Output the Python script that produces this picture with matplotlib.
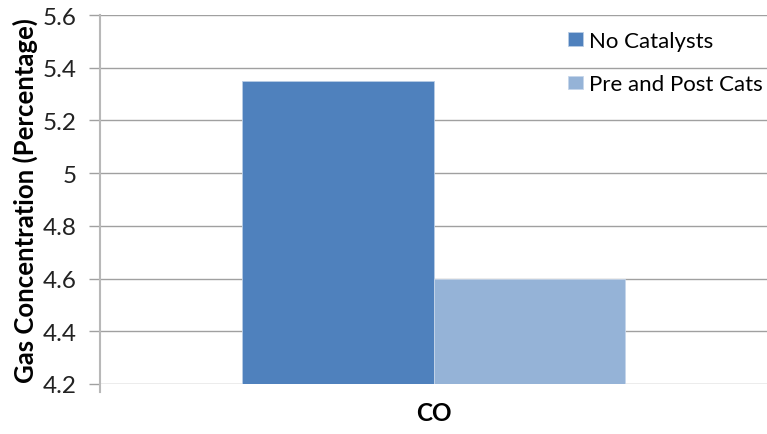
import matplotlib.pyplot as plt
import numpy as np

plt.rcParams['font.family'] = ['Lato', 'DejaVu Sans']

categories = ['CO']
series_names = ['No Catalysts', 'Pre and Post Cats']
no_catalysts = [5.35]
pre_post_cats = [4.6]
yticks = [4.2, 4.4, 4.6, 4.8, 5.0, 5.2, 5.4, 5.6]
ytick_labels = ['4.2', '4.4', '4.6', '4.8', '5', '5.2', '5.4', '5.6']

fig = plt.figure(figsize=(7.67, 4.35), dpi=100)
ax = fig.add_axes([0.1304, 0.115, 0.8696, 0.848])

x = np.arange(len(categories))
w = 0.287
ax.bar(x - w / 2, np.array(no_catalysts) - 4.2, w, bottom=4.2, color='#4f81bd',
       edgecolor='#b9cde5', linewidth=0.6, label=series_names[0], zorder=3)
ax.bar(x + w / 2, np.array(pre_post_cats) - 4.2, w, bottom=4.2, color='#95b3d7',
       edgecolor='#c6d6ea', linewidth=0.6, label=series_names[1], zorder=3)

ax.set_xlim(-0.5, 0.5)
ax.set_ylim(4.2, 5.6)
ax.set_yticks(yticks)
ax.set_yticklabels(ytick_labels, fontsize=17.5, color='#222222')
ax.set_xticks(x)
ax.set_xticklabels(categories, fontsize=17.5, fontweight='bold')
ax.tick_params(axis='x', length=0, pad=12)
ax.tick_params(axis='y', length=8, color='#a0a0a0', width=1, pad=9)
ax.grid(axis='y', color='#a0a0a0', linewidth=1, zorder=0)
ax.set_axisbelow(True)

for s in ['top', 'right', 'bottom']:
    ax.spines[s].set_visible(False)
ax.spines['left'].set_color('#b8b8b8')
ax.spines['left'].set_linewidth(1.5)
ax.spines['left'].set_bounds(4.17, 5.6)

ax.set_ylabel('Gas Concentration (Percentage)', fontsize=18.5, fontweight='bold', labelpad=3)

ax.legend(loc='upper left', bbox_to_anchor=(0.702, 0.957), frameon=False, fontsize=16,
          handlelength=0.65, handleheight=0.55, handletextpad=0.3, labelspacing=1.05,
          borderpad=0, borderaxespad=0)

fig.savefig('out.png', dpi=100)
